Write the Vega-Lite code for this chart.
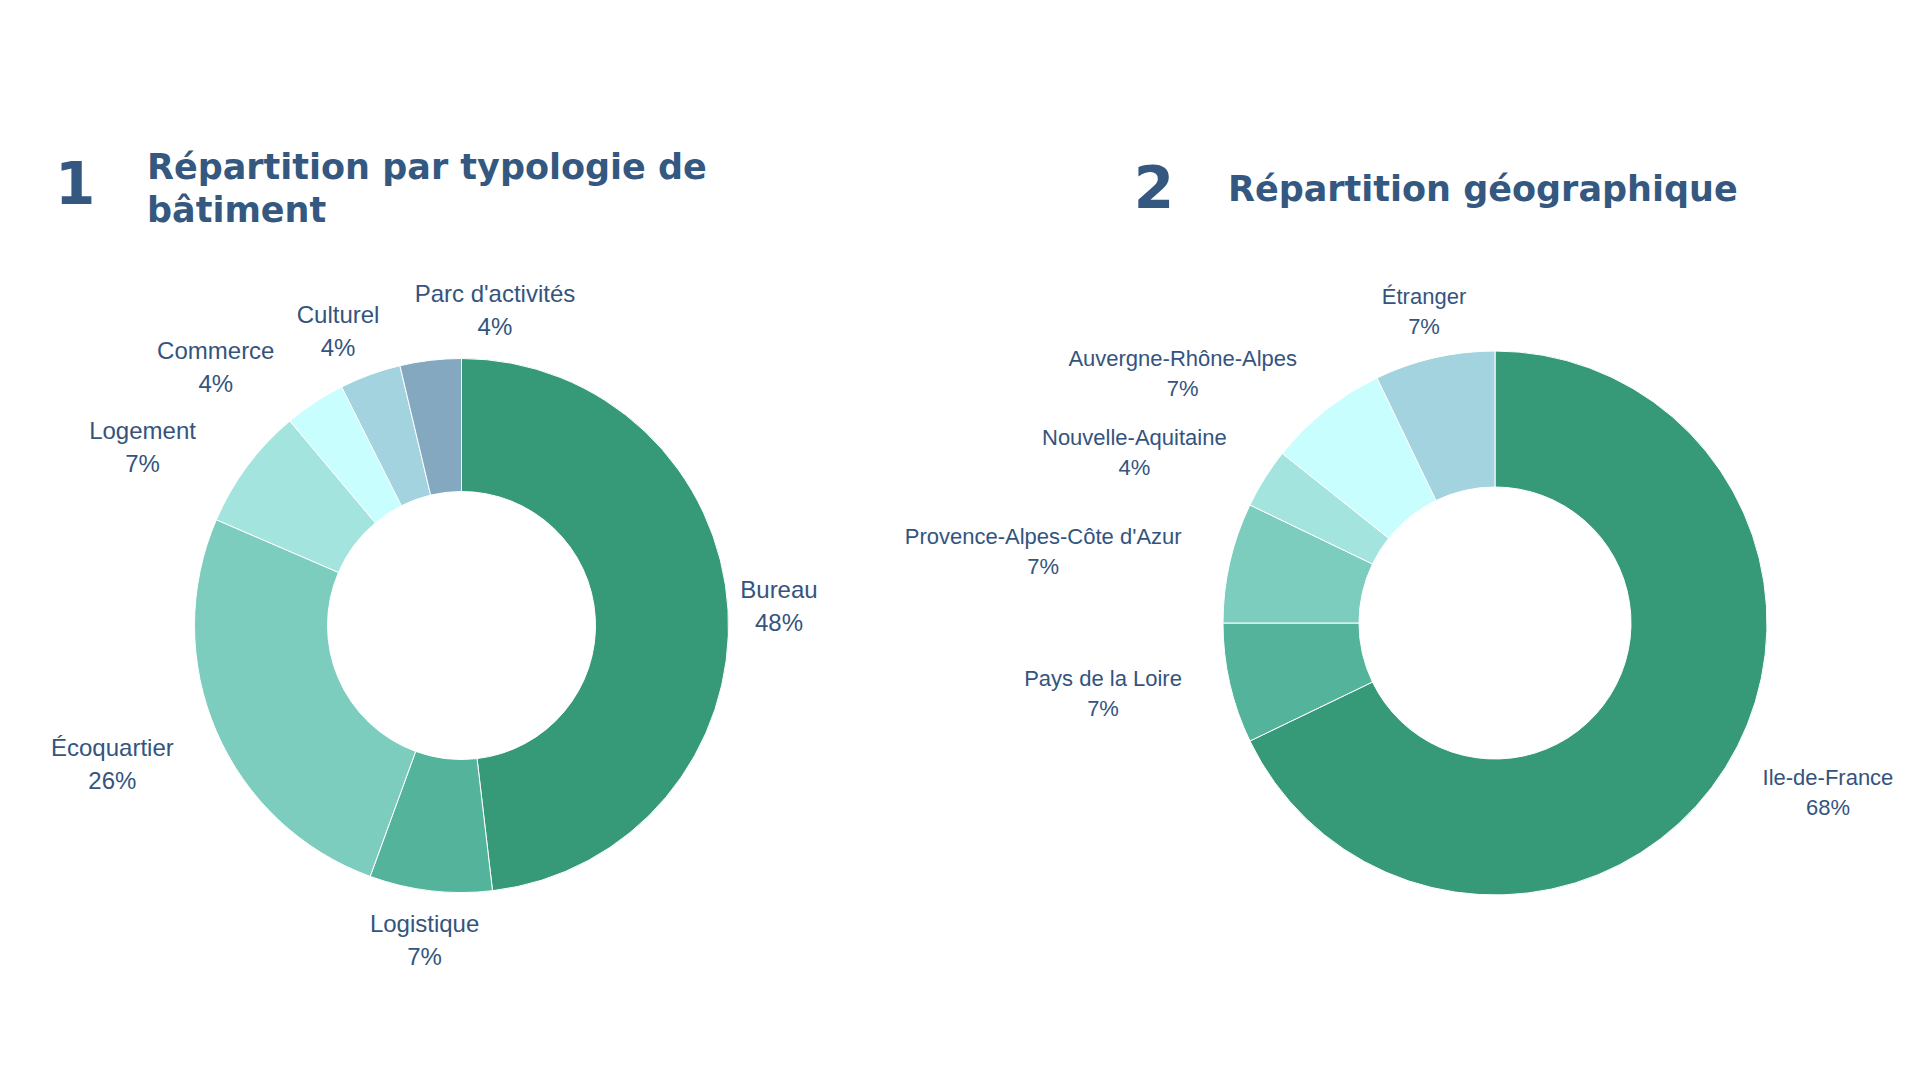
{
  "$schema": "https://vega.github.io/schema/vega-lite/v6.json",
  "description": "Deux anneaux : répartition par typologie de bâtiment et répartition géographique.",
  "background": "white",
  "padding": {"left": 0, "top": 151, "right": 0, "bottom": 0},
  "datasets": {
    "typologie": [
      {"cat": "Bureau", "n": 13, "pct": "48%", "order": 1},
      {"cat": "Logistique", "n": 2, "pct": "7%", "order": 2},
      {"cat": "Écoquartier", "n": 7, "pct": "26%", "order": 3},
      {"cat": "Logement", "n": 2, "pct": "7%", "order": 4},
      {"cat": "Commerce", "n": 1, "pct": "4%", "order": 5},
      {"cat": "Culturel", "n": 1, "pct": "4%", "order": 6},
      {"cat": "Parc d'activités", "n": 1, "pct": "4%", "order": 7}
    ],
    "geo": [
      {"cat": "Ile-de-France", "n": 19, "pct": "68%", "order": 1},
      {"cat": "Pays de la Loire", "n": 2, "pct": "7%", "order": 2},
      {"cat": "Provence-Alpes-Côte d'Azur", "n": 2, "pct": "7%", "order": 3},
      {"cat": "Nouvelle-Aquitaine", "n": 1, "pct": "4%", "order": 4},
      {"cat": "Auvergne-Rhône-Alpes", "n": 2, "pct": "7%", "order": 5},
      {"cat": "Étranger", "n": 2, "pct": "7%", "order": 6}
    ]
  },
  "hconcat": [
    {
      "width": 147,
      "height": 715,
      "title": {"text": "1", "anchor": "start", "frame": "group", "dx": 55, "offset": 52, "fontSize": 58},
      "data": {"values": []},
      "mark": "text",
      "encoding": {"text": {"value": ""}}
    },
    {
      "width": 629,
      "height": 715,
      "title": {
        "text": ["Répartition par typologie de", "bâtiment"],
        "anchor": "start", "frame": "group", "offset": 39, "lineHeight": 43
      },
      "data": {"name": "typologie"},
      "transform": [
        {"window": [{"op": "sum", "field": "n", "as": "cum"}], "sort": [{"field": "order"}], "frame": [null, 0]},
        {"joinaggregate": [{"op": "sum", "field": "n", "as": "total"}]},
        {"calculate": "datum.cat + '\\n' + datum.pct", "as": "label"}
      ],
      "encoding": {
        "theta": {"field": "n", "type": "quantitative", "stack": true},
        "order": {"field": "order"}
      },
      "layer": [
        {
          "mark": {"type": "arc", "innerRadius": 134, "outerRadius": 267, "stroke": "white", "strokeWidth": 1},
          "encoding": {
            "color": {
              "field": "cat", "type": "nominal", "legend": null,
              "scale": {
                "domain": ["Bureau", "Logistique", "Écoquartier", "Logement", "Commerce", "Culturel", "Parc d'activités"],
                "range": ["#369a78", "#53b39b", "#7ccdbd", "#a3e5de", "#c8fefd", "#a3d3df", "#84a8bf"]
              }
            }
          }
        },
        {
          "mark": {
            "type": "text", "radius": 318, "fontSize": 24, "lineHeight": 33, "lineBreak": "\n",
            "font": "Liberation Sans", "color": "#34547e", "baseline": "middle", "align": "center",
            "dy": {"expr": "-16.5 - ((sin(2*PI*(datum.cum-datum.n/2)/datum.total) < -0.3 || cos(2*PI*(datum.cum-datum.n/2)/datum.total) > 0.9) ? 15.6*sin(2*PI*(datum.cum-datum.n/2)/datum.total) : 0)"},
            "dx": {"expr": "(sin(2*PI*(datum.cum-datum.n/2)/datum.total) < -0.45 ? -1 : (((sin(2*PI*(datum.cum-datum.n/2)/datum.total) > 0.45 && sin(2*PI*(datum.cum-datum.n/2)/datum.total) < 0.95) || (cos(2*PI*(datum.cum-datum.n/2)/datum.total) > 0.9 && sin(2*PI*(datum.cum-datum.n/2)/datum.total) > -0.2)) ? 1 : 0)) * 12 * (0.556*length(datum.cat) - 0.3*(length(datum.cat)-length(replace(datum.cat, regexp(\"[iltjI']\",\"g\"), \"\"))) - 0.22*(length(datum.cat)-length(replace(datum.cat, regexp(\"[r -]\",\"g\"), \"\"))) + 0.2*(length(datum.cat)-length(replace(datum.cat, regexp(\"[A-HJ-ZÉm]\",\"g\"), \"\")))) - ((sin(2*PI*(datum.cum-datum.n/2)/datum.total) < -0.3 || cos(2*PI*(datum.cum-datum.n/2)/datum.total) > 0.9) ? 15.6*cos(2*PI*(datum.cum-datum.n/2)/datum.total) : 0)"}
          },
          "encoding": {
            "detail": {"field": "cat"},
            "text": {"field": "label"}
          }
        }
      ]
    },
    {
      "width": 452,
      "height": 710,
      "title": {"text": "2", "anchor": "end", "frame": "group", "dx": -54, "offset": 48, "fontSize": 58},
      "data": {"values": []},
      "mark": "text",
      "encoding": {"text": {"value": ""}}
    },
    {
      "width": 534,
      "height": 710,
      "title": {"text": "Répartition géographique", "anchor": "start", "frame": "group", "offset": 60},
      "data": {"name": "geo"},
      "transform": [
        {"window": [{"op": "sum", "field": "n", "as": "cum"}], "sort": [{"field": "order"}], "frame": [null, 0]},
        {"joinaggregate": [{"op": "sum", "field": "n", "as": "total"}]},
        {"calculate": "datum.cat + '\\n' + datum.pct", "as": "label"}
      ],
      "encoding": {
        "theta": {"field": "n", "type": "quantitative", "stack": true},
        "order": {"field": "order"}
      },
      "layer": [
        {
          "mark": {"type": "arc", "innerRadius": 136, "outerRadius": 272, "stroke": "white", "strokeWidth": 1},
          "encoding": {
            "color": {
              "field": "cat", "type": "nominal", "legend": null,
              "scale": {
                "domain": ["Ile-de-France", "Pays de la Loire", "Provence-Alpes-Côte d'Azur", "Nouvelle-Aquitaine", "Auvergne-Rhône-Alpes", "Étranger"],
                "range": ["#369a78", "#53b39b", "#7ccdbd", "#a3e5de", "#c8fefd", "#a3d3df"]
              }
            }
          }
        },
        {
          "mark": {
            "type": "text", "radius": 319, "fontSize": 22, "lineHeight": 30, "lineBreak": "\n",
            "font": "Liberation Sans", "color": "#34547e", "baseline": "middle", "align": "center", "dy": -15,
            "dx": {"expr": "(sin(2*PI*(datum.cum-datum.n/2)/datum.total) < -0.45 ? -1 : (((sin(2*PI*(datum.cum-datum.n/2)/datum.total) > 0.45 && sin(2*PI*(datum.cum-datum.n/2)/datum.total) < 0.95) || (cos(2*PI*(datum.cum-datum.n/2)/datum.total) > 0.9 && sin(2*PI*(datum.cum-datum.n/2)/datum.total) > -0.2)) ? 1 : 0)) * (11 * (0.556*length(datum.cat) - 0.3*(length(datum.cat)-length(replace(datum.cat, regexp(\"[iltjI']\",\"g\"), \"\"))) - 0.22*(length(datum.cat)-length(replace(datum.cat, regexp(\"[r -]\",\"g\"), \"\"))) + 0.2*(length(datum.cat)-length(replace(datum.cat, regexp(\"[A-HJ-ZÉm]\",\"g\"), \"\")))) - 5)"}
          },
          "encoding": {
            "detail": {"field": "cat"},
            "text": {"field": "label"}
          }
        }
      ]
    }
  ],
  "spacing": 0,
  "bounds": "flush",
  "config": {
    "view": {"stroke": null},
    "title": {
      "font": "DejaVu Sans", "fontWeight": "bold", "fontSize": 35,
      "color": "#34587f", "baseline": "alphabetic"
    }
  }
}
